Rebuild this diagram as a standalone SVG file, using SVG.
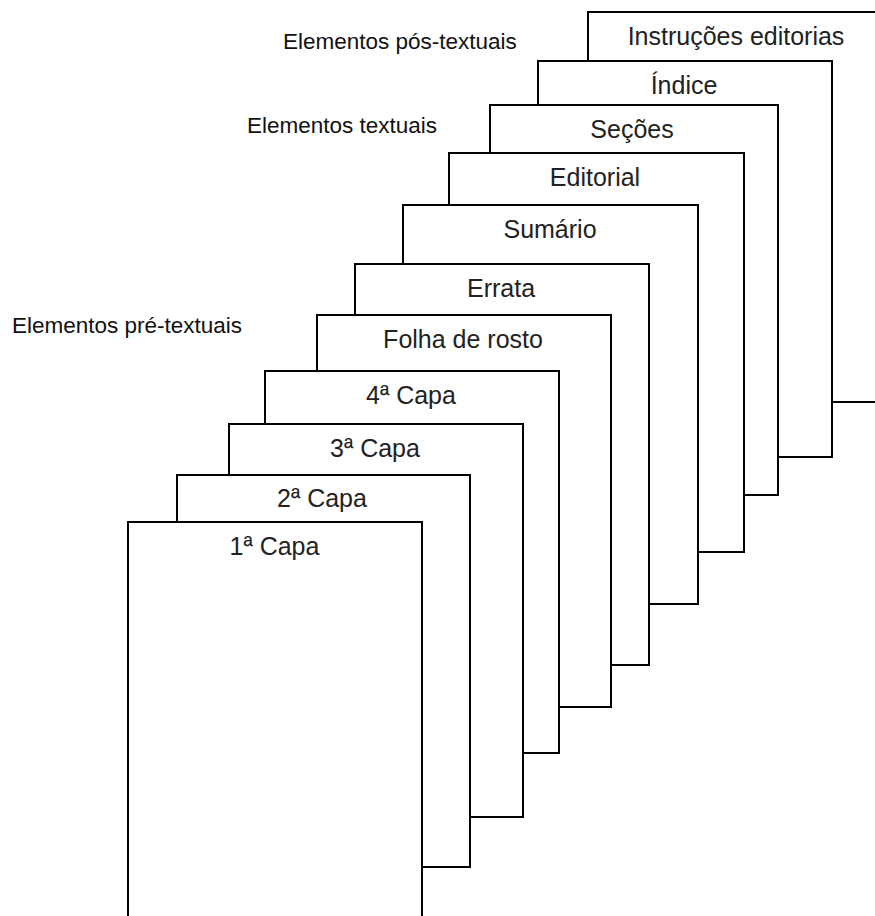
<svg xmlns="http://www.w3.org/2000/svg" width="875" height="916" viewBox="0 0 875 916">
<style>
.page{fill:#fff;stroke:#000;stroke-width:2}
.lbl{font-family:"Liberation Sans",Arial,sans-serif;font-size:25px;fill:#222;text-anchor:middle}
.sec{font-family:"Liberation Sans",Arial,sans-serif;font-size:22.5px;fill:#111}
</style>
<rect width="875" height="916" fill="#fff"/>
<g id="instrucoes"><rect class="page" x="588" y="12" width="295" height="390"/><text class="lbl" transform="translate(736,45) scale(1,1.05)">Instruções editorias</text></g>
<g id="indice"><rect class="page" x="538" y="61" width="294" height="396"/><text class="lbl" transform="translate(684,93.5) scale(1,1.05)">Índice</text></g>
<g id="secoes"><rect class="page" x="490" y="105" width="288" height="390"/><text class="lbl" transform="translate(632,137.5) scale(1,1.05)">Seções</text></g>
<g id="editorial"><rect class="page" x="449" y="153" width="295" height="399"/><text class="lbl" transform="translate(595,185.5) scale(1,1.05)">Editorial</text></g>
<g id="sumario"><rect class="page" x="403" y="205" width="295" height="399"/><text class="lbl" transform="translate(550,238) scale(1,1.05)">Sumário</text></g>
<g id="errata"><rect class="page" x="355" y="264" width="294" height="401"/><text class="lbl" transform="translate(501,296.5) scale(1,1.05)">Errata</text></g>
<g id="folha"><rect class="page" x="317" y="315" width="294" height="392"/><text class="lbl" transform="translate(463,347.5) scale(1,1.05)">Folha de rosto</text></g>
<g id="capa4"><rect class="page" x="265" y="371" width="294" height="382"/><text class="lbl" transform="translate(411,403.5) scale(1,1.05)">4ª Capa</text></g>
<g id="capa3"><rect class="page" x="229" y="424" width="294" height="393"/><text class="lbl" transform="translate(375,456.5) scale(1,1.05)">3ª Capa</text></g>
<g id="capa2"><rect class="page" x="177" y="475" width="293" height="392"/><text class="lbl" transform="translate(322,507) scale(1,1.05)">2ª Capa</text></g>
<g id="capa1"><rect class="page" x="128" y="522" width="294" height="420"/><text class="lbl" transform="translate(274.5,555) scale(1,1.05)">1ª Capa</text></g>
<g id="sections">
<text class="sec" x="283" y="49">Elementos pós-textuais</text>
<text class="sec" x="247" y="133">Elementos textuais</text>
<text class="sec" x="12" y="333">Elementos pré-textuais</text>
</g>
<g id="connectors"/>
</svg>
